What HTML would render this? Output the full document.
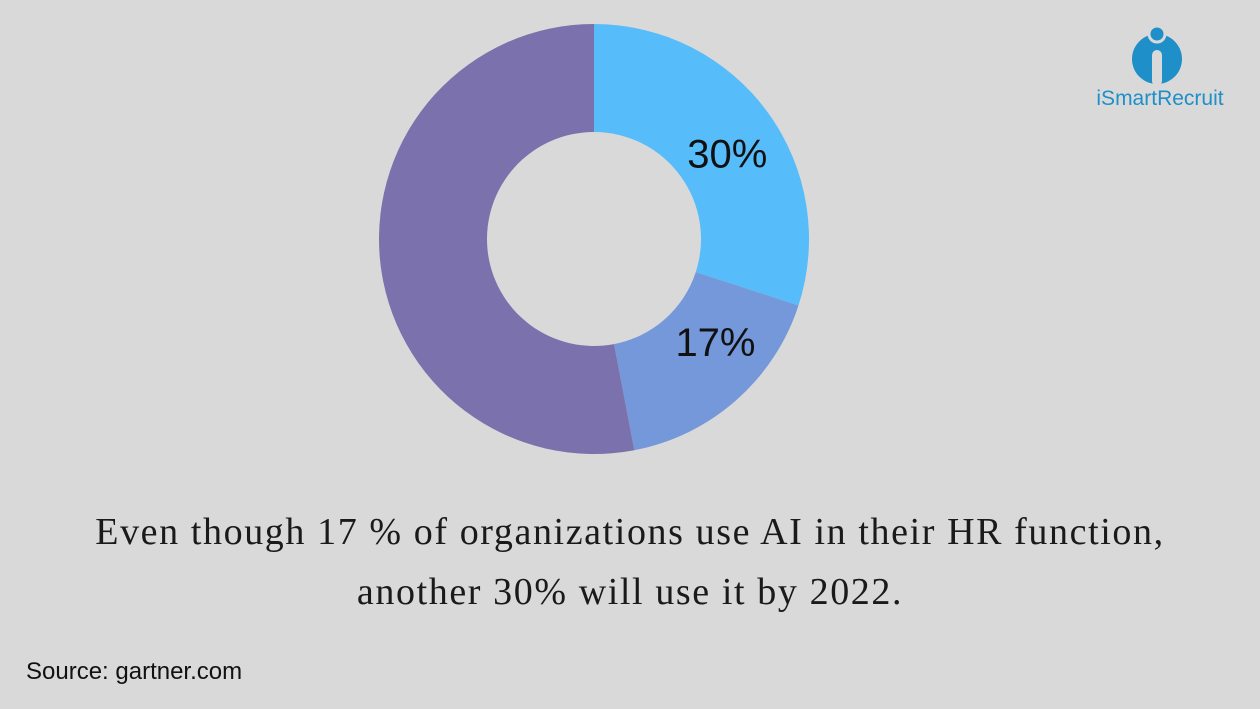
<!DOCTYPE html>
<html><head><meta charset="utf-8"><style>
body{margin:0;width:1260px;height:709px;background:#d9d9d9;overflow:hidden;position:relative;font-family:"Liberation Sans",sans-serif}
.cap{position:absolute;left:0;width:1260px;text-align:center;font-family:"Liberation Serif",serif;font-size:38px;color:#1a1a1a;letter-spacing:1.6px}
</style></head><body>
<svg width="1260" height="709" style="position:absolute;left:0;top:0">
<g id="slices"></g>
<g>
<circle cx="1157" cy="59" r="25" fill="#1e8fc8"/>
<circle cx="1157" cy="34" r="8" fill="#1e8fc8" stroke="#d9d9d9" stroke-width="3"/>
<rect x="1152" y="50" width="10" height="36" rx="5" fill="#d9d9d9"/>
<text x="1160" y="105" text-anchor="middle" font-family="Liberation Sans, sans-serif" font-size="21" fill="#1e8fc8">iSmartRecruit</text>
</g>
</svg>
<div class="cap" style="top:510px">Even though 17 % of organizations use AI in their HR function,</div>
<div class="cap" style="top:570px">another 30% will use it by 2022.</div>
<div style="position:absolute;left:26px;top:658px;font-size:24px;color:#111">Source: gartner.com</div>
<script>
const categories=["Will use by 2022","Use AI now","Other"];
const values=[30,17,53];
const labels=["30%","17%",""];
const colors=["#56bcfa","#7598da","#7b72ad"];
const labelShift=[[3,10],[15,-17],[0,0]];
const cx=594,cy=239,R=215,r=107;
const g=document.getElementById('slices');
const ns="http://www.w3.org/2000/svg";
const total=values.reduce((a,b)=>a+b,0);
let acc=0;
function pt(a,rad){return [cx+rad*Math.sin(a),cy-rad*Math.cos(a)];}
values.forEach((v,i)=>{
  const a0=acc/total*2*Math.PI;acc+=v;const a1=acc/total*2*Math.PI;
  const lg=(a1-a0)>Math.PI?1:0;
  const [x0,y0]=pt(a0,R),[x1,y1]=pt(a1,R),[x2,y2]=pt(a1,r),[x3,y3]=pt(a0,r);
  const p=document.createElementNS(ns,'path');
  p.setAttribute('d',`M${x0},${y0}A${R},${R} 0 ${lg} 1 ${x1},${y1}L${x2},${y2}A${r},${r} 0 ${lg} 0 ${x3},${y3}Z`);
  p.setAttribute('fill',colors[i]);
  
  
  g.appendChild(p);
  if(labels[i]){
    const am=(a0+a1)/2;const [lx,ly]=pt(am,(R+r)/2);
    const t=document.createElementNS(ns,'text');
    t.setAttribute('x',lx+labelShift[i][0]);t.setAttribute('y',ly+13+labelShift[i][1]);
    t.setAttribute('text-anchor','middle');
    t.setAttribute('font-size','40');
    t.setAttribute('font-family','Liberation Sans, sans-serif');
    t.setAttribute('fill','#111');
    t.textContent=labels[i];
    
    
    g.appendChild(t);
  }
});
</script>
</body></html>
